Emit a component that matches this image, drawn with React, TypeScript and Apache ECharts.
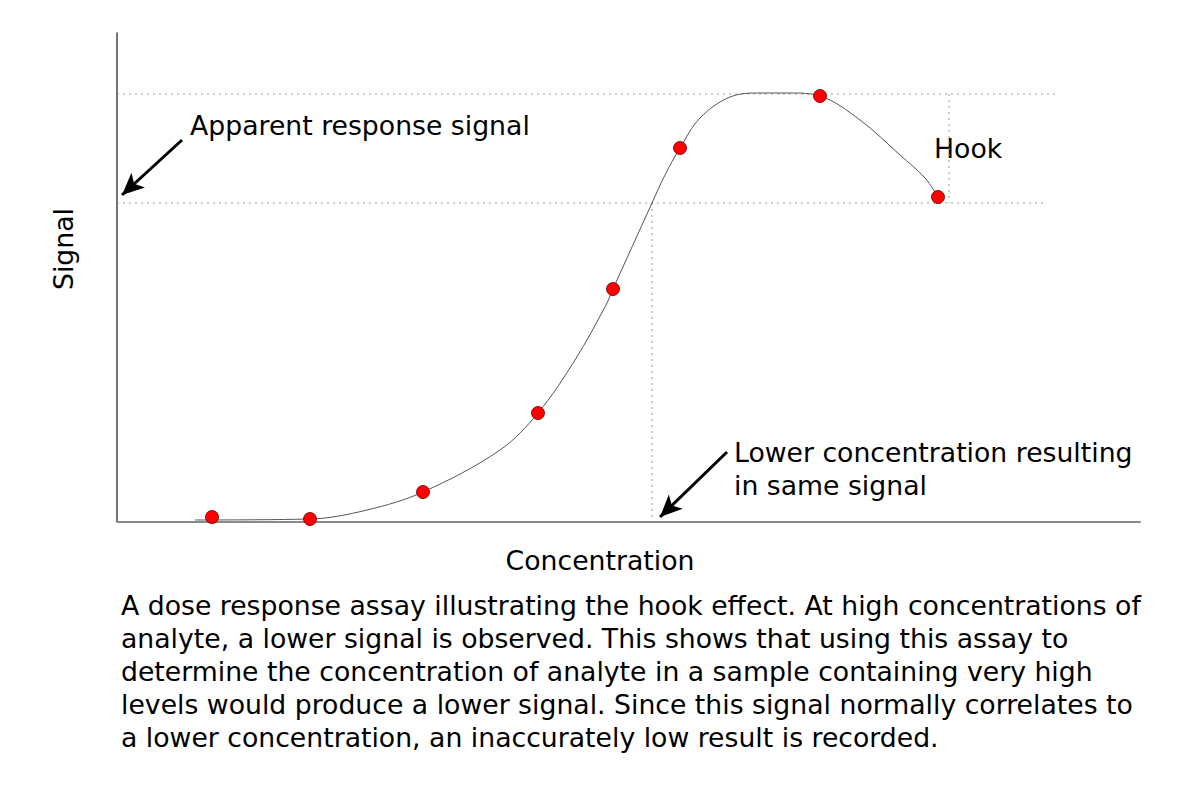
import React, { useEffect, useRef } from "react";
import * as echarts from "echarts";

// Arbitrary units: concentration (x) and signal (y)
const pointX = [95, 193, 306, 421, 496, 563, 703, 821];
const pointY = [5, 3, 30, 109, 233, 374, 426, 325];

// Hand-drawn dose-response curve
const curveX = [78, 193, 250, 306, 383, 421, 458, 489, 496, 535, 548, 563, 583, 613, 643, 673, 703, 743, 783, 808, 821];
const curveY = [2, 3, 12, 30, 72, 109, 162, 217, 233, 319, 347, 374, 404, 425, 429, 429, 426, 402, 367, 344, 325];

const peakSignal = 428;
const apparentSignal = 319;
const lowerConc = 535;
const hookX = 832;

const captionLines = [
  "A dose response assay illustrating the hook effect. At high concentrations of",
  "analyte, a lower signal is observed. This shows that using this assay to",
  "determine the concentration of analyte in a sample containing very high",
  "levels would produce a lower signal. Since this signal normally correlates to",
  "a lower concentration, an inaccurately low result is recorded.",
];

const FONT = "DejaVu Sans";
const FS = 26.7;

export default function App() {
  const ref = useRef<HTMLDivElement>(null);
  useEffect(() => {
    if (!ref.current) return;
    const chart = echarts.init(ref.current, null, { renderer: "svg" });
    const dotted = { color: "#9a9a9a", width: 1, type: [2, 4] as any };
    chart.setOption({
      animation: false,
      backgroundColor: "#ffffff",
      grid: { left: 117, right: 60, top: 33, bottom: 278 },
      xAxis: {
        type: "value",
        min: 0,
        max: 1023,
        axisLine: { show: true, lineStyle: { color: "#8a8a8a", width: 2 } },
        axisTick: { show: false },
        axisLabel: { show: false },
        splitLine: { show: false },
      },
      yAxis: {
        type: "value",
        min: 0,
        max: 489,
        axisLine: { show: true, lineStyle: { color: "#444", width: 1.5 } },
        axisTick: { show: false },
        axisLabel: { show: false },
        splitLine: { show: false },
      },
      series: [
        {
          type: "line",
          data: [[0, peakSignal], [938, peakSignal]],
          symbol: "none",
          lineStyle: dotted,
          silent: true,
        },
        {
          type: "line",
          data: [[0, apparentSignal], [926, apparentSignal]],
          symbol: "none",
          lineStyle: dotted,
          silent: true,
        },
        {
          type: "line",
          data: [[lowerConc, apparentSignal], [lowerConc, 0]],
          symbol: "none",
          lineStyle: dotted,
          silent: true,
        },
        {
          type: "line",
          data: [[hookX, peakSignal], [hookX, apparentSignal]],
          symbol: "none",
          lineStyle: dotted,
          silent: true,
        },
        {
          type: "line",
          data: curveX.map((x, i) => [x, curveY[i]]),
          smooth: 0.35,
          symbol: "none",
          lineStyle: { color: "#555", width: 1 },
          markLine: {
            silent: true,
            symbol: ["none", "arrow"],
            symbolSize: [15, 22],
            label: { show: false },
            lineStyle: { color: "#000", width: 3, type: "solid" },
            data: [
              [{ coord: [65, 382] }, { coord: [5, 327] }],
              [{ coord: [610, 70] }, { coord: [543, 5] }],
            ],
          },
        },
        {
          type: "scatter",
          data: pointX.map((x, i) => [x, pointY[i]]),
          symbol: "circle",
          symbolSize: 13,
          itemStyle: { color: "#ff0000", borderColor: "#6a0000", borderWidth: 0.8, opacity: 1 },
          z: 5,
        },
      ],
      graphic: [
        {
          type: "text",
          x: 600,
          y: 560,
          style: { text: "Concentration", fontFamily: FONT, fontSize: FS, fill: "#000", align: "center", verticalAlign: "middle" },
        },
        {
          type: "text",
          x: 63,
          y: 249,
          rotation: Math.PI / 2,
          style: { text: "Signal", fontFamily: FONT, fontSize: FS, fill: "#000", align: "center", verticalAlign: "middle" },
        },
        {
          type: "text",
          x: 190,
          y: 125,
          style: { text: "Apparent response signal", fontFamily: FONT, fontSize: FS, fill: "#000", verticalAlign: "middle" },
        },
        {
          type: "text",
          x: 934,
          y: 148,
          style: { text: "Hook", fontFamily: FONT, fontSize: FS, fill: "#000", verticalAlign: "middle" },
        },
        {
          type: "text",
          left: 734,
          top: 435.5,
          style: {
            text: "Lower concentration resulting\nin same signal",
            fontFamily: FONT,
            fontSize: FS,
            lineHeight: 33,
            fill: "#000",
          },
        },
        {
          type: "text",
          left: 121,
          top: 588.5,
          style: {
            text: captionLines.join("\n"),
            fontFamily: FONT,
            fontSize: FS,
            lineHeight: 33,
            fill: "#000",
          },
        },
      ],
    });
    return () => chart.dispose();
  }, []);
  return (
    <div
      ref={ref}
      style={{ position: "fixed", left: 0, top: 0, width: 1200, height: 800, background: "#fff" }}
    />
  );
}
